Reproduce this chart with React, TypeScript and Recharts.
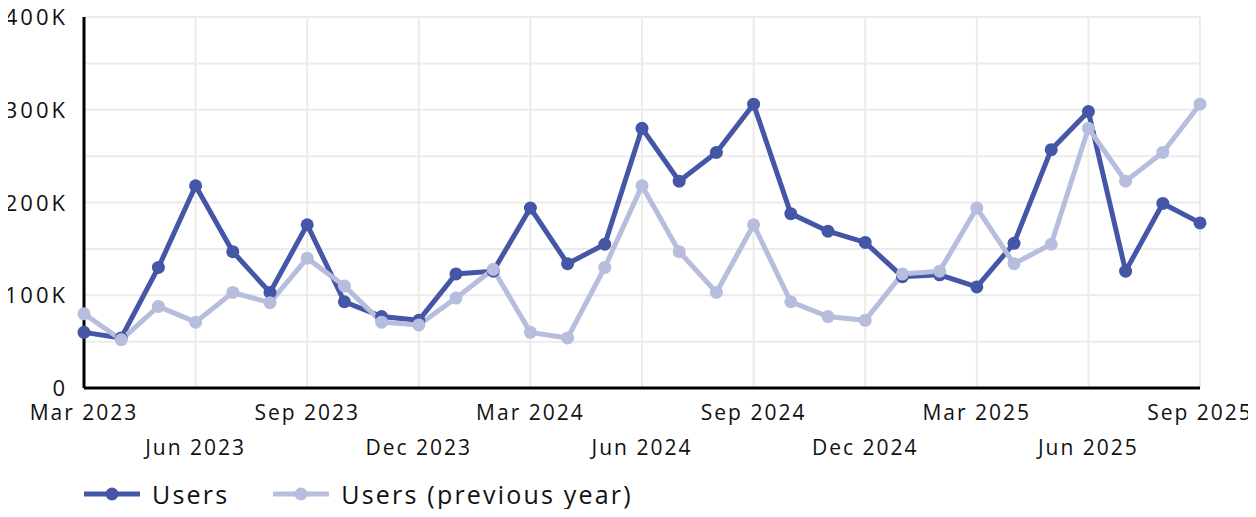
import React from "react";
import {
  LineChart,
  Line,
  XAxis,
  YAxis,
  CartesianGrid,
  Legend,
} from "recharts";

const months = [
  "Mar 2023", "Apr 2023", "May 2023", "Jun 2023", "Jul 2023", "Aug 2023",
  "Sep 2023", "Oct 2023", "Nov 2023", "Dec 2023", "Jan 2024", "Feb 2024",
  "Mar 2024", "Apr 2024", "May 2024", "Jun 2024", "Jul 2024", "Aug 2024",
  "Sep 2024", "Oct 2024", "Nov 2024", "Dec 2024", "Jan 2025", "Feb 2025",
  "Mar 2025", "Apr 2025", "May 2025", "Jun 2025", "Jul 2025", "Aug 2025",
  "Sep 2025",
];

const users = [
  60000, 54000, 130000, 218000, 147000, 103000, 176000, 93000, 77000, 73000,
  123000, 126000, 194000, 134000, 155000, 280000, 223000, 254000, 306000,
  188000, 169000, 157000, 120000, 122000, 109000, 156000, 257000, 298000,
  126000, 199000, 178000,
];

const usersPrevYear = [
  80000, 52000, 88000, 71000, 103000, 92000, 140000, 110000, 71000, 68000,
  97000, 128000, 60000, 54000, 130000, 218000, 147000, 103000, 176000, 93000,
  77000, 73000, 123000, 126000, 194000, 134000, 155000, 280000, 223000,
  254000, 306000,
];

const xTicks = [
  "Mar 2023", "Jun 2023", "Sep 2023", "Dec 2023", "Mar 2024", "Jun 2024",
  "Sep 2024", "Dec 2024", "Mar 2025", "Jun 2025", "Sep 2025",
];

const yTicks = [0, 50000, 100000, 150000, 200000, 250000, 300000, 350000, 400000];

const DARK = "#4556a6";
const LIGHT = "#b6bddd";
const FONT = "'Open Sans', sans-serif";

const data = months.map((m, i) => ({
  month: m,
  users: users[i],
  prev: usersPrevYear[i],
}));

function formatY(v: number) {
  if (v === 0) return "0";
  if (v % 100000 !== 0) return "";
  return `${v / 1000}K`;
}

function XTick(props: any) {
  const { x, y, payload } = props;
  const idx = xTicks.indexOf(payload.value);
  const dy = idx % 2 === 0 ? 24 : 59;
  return (
    <text
      x={x}
      y={y + dy}
      textAnchor="middle"
      fill="#111"
      fontSize={21}
      letterSpacing={2}
      fontFamily={FONT}
    >
      {payload.value}
    </text>
  );
}

function YTick(props: any) {
  const { x, y, payload } = props;
  return (
    <text
      x={x}
      y={y + 8}
      textAnchor="end"
      fill="#111"
      fontSize={22}
      letterSpacing={3}
      fontFamily={FONT}
    >
      {formatY(payload.value)}
    </text>
  );
}

function LegendIcon({ color }: { color: string }) {
  return (
    <svg width={56} height={16} style={{ marginRight: 12 }}>
      <line x1={0} y1={8} x2={56} y2={8} stroke={color} strokeWidth={5} />
      <circle cx={28} cy={8} r={6.5} fill={color} />
    </svg>
  );
}

function LegendContent() {
  const items = [
    { label: "Users", color: DARK },
    { label: "Users (previous year)", color: LIGHT },
  ];
  return (
    <div
      style={{
        display: "flex",
        alignItems: "center",
        paddingLeft: 84,
        paddingTop: 4,
        fontFamily: FONT,
        fontSize: 25,
        letterSpacing: 2.2,
        color: "#111",
      }}
    >
      {items.map((it) => (
        <div
          key={it.label}
          style={{ display: "flex", alignItems: "center", marginRight: 44 }}
        >
          <LegendIcon color={it.color} />
          <span>{it.label}</span>
        </div>
      ))}
    </div>
  );
}

export default function App() {
  return (
    <div style={{ margin: -8 }}>
      <LineChart
        width={1256}
        height={517}
        data={data}
        margin={{ top: 17, right: 56, left: 0, bottom: 0 }}
      >
        <CartesianGrid stroke="#ebebeb" strokeWidth={2} />
        <XAxis
          dataKey="month"
          ticks={xTicks}
          interval={0}
          tick={<XTick />}
          tickLine={false}
          height={85}
          axisLine={{ stroke: "#000", strokeWidth: 3 }}
        />
        <YAxis
          domain={[0, 400000]}
          ticks={yTicks}
          interval={0}
          width={84}
          tickLine={false}
          tickSize={0}
          tickMargin={16}
          axisLine={{ stroke: "#000", strokeWidth: 3 }}
          tick={<YTick />}
        />
        <Legend
          verticalAlign="bottom"
          align="left"
          height={44}
          content={<LegendContent />}
        />
        <Line
          type="linear"
          dataKey="users"
          name="Users"
          stroke={DARK}
          strokeWidth={5}
          dot={{ r: 6.5, fill: DARK, stroke: DARK, strokeWidth: 0 }}
          activeDot={false}
          isAnimationActive={false}
        />
        <Line
          type="linear"
          dataKey="prev"
          name="Users (previous year)"
          stroke={LIGHT}
          strokeWidth={5}
          dot={{ r: 6.5, fill: LIGHT, stroke: LIGHT, strokeWidth: 0 }}
          activeDot={false}
          isAnimationActive={false}
        />
      </LineChart>
    </div>
  );
}
